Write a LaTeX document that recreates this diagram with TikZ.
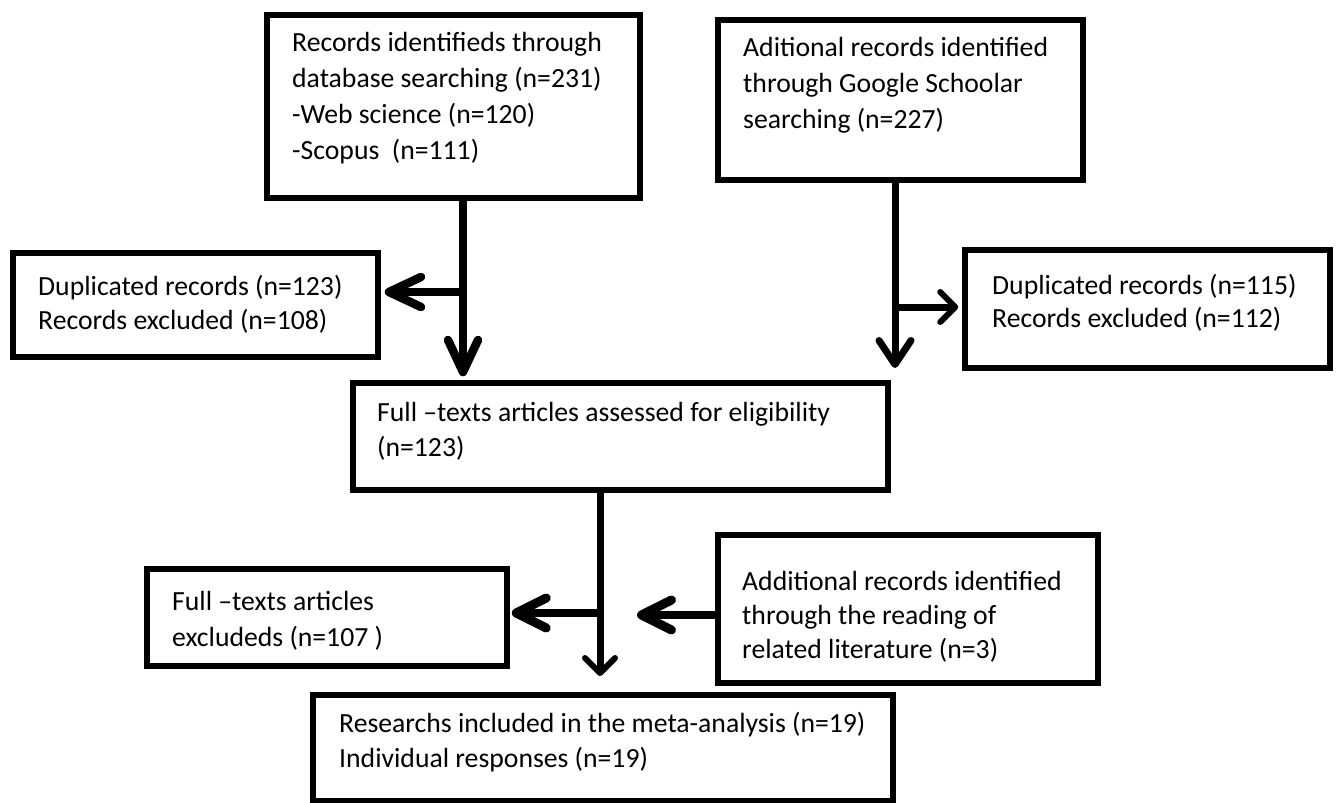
\documentclass[tikz,border=0pt]{standalone}
\usepackage{fontspec}
\setmainfont{Carlito}
\usetikzlibrary{arrows.meta}
\begin{document}
\begin{tikzpicture}[x=1pt,y=-1pt,
  box/.style={draw=black, line width=5.5pt, inner sep=0pt},
  txt/.style={anchor=north west, inner sep=0pt, align=left, font=\fontsize{27.7}{35}\selectfont},
  bigflow/.style={line width=8.5pt, -{Straight Barb[length=32pt,width=30pt,line width=8.5pt,round]}},
  medflow/.style={line width=7pt, -{Straight Barb[length=24pt,width=32pt,line width=7pt,round]}},
  smallflow/.style={line width=7pt, -{Straight Barb[length=15pt,width=30pt,line width=6pt,round]}},
  sideflow/.style={line width=8pt, -{Straight Barb[length=30pt,width=30pt,line width=9pt,round]}}]
\useasboundingbox (0,0) rectangle (1339,803);
\fill[white] (0,0) rectangle (1339,803);

% boxes
\node[box, minimum width=373pt, minimum height=183pt] (b1) at (453.5,106.5) {};
\node[box, minimum width=365pt, minimum height=160pt] (b2) at (900.5,100) {};
\node[box, minimum width=365pt, minimum height=104pt] (b3) at (195.5,305) {};
\node[box, minimum width=365pt, minimum height=118pt] (b4) at (1147.5,309) {};
\node[box, minimum width=535pt, minimum height=107pt] (b5) at (620.5,436.5) {};
\node[box, minimum width=360pt, minimum height=97pt] (b6) at (327,617.5) {};
\node[box, minimum width=380pt, minimum height=148pt] (b7) at (908,609) {};
\node[box, minimum width=580pt, minimum height=106pt] (b8) at (603,748) {};

% texts
\node[txt, font=\fontsize{27.7}{36}\selectfont] (t1) at (292,32) {Records identifieds through\\database searching (n=231)\\-Web science (n=120)\\-Scopus\ \ (n=111)};
\node[txt, font=\fontsize{27.7}{36}\selectfont] (t2) at (743,37) {Aditional records identified\\through Google Schoolar\\searching (n=227)};
\node[txt, font=\fontsize{27.7}{34}\selectfont] (t3) at (38,275) {Duplicated records (n=123)\\Records excluded (n=108)};
\node[txt, font=\fontsize{27.7}{33}\selectfont] (t4) at (992,274) {Duplicated records (n=115)\\Records excluded (n=112)};
\node[txt] (t5) at (377,402) {Full –texts articles assessed for eligibility\\(n=123)};
\node[txt, font=\fontsize{27.7}{36}\selectfont] (t6) at (172,591) {Full –texts articles\\excludeds (n=107 )};
\node[txt, font=\fontsize{27.7}{34}\selectfont] (t7) at (742,571) {Additional records identified\\through the reading of\\related literature (n=3)};
\node[txt] (t8) at (339,712) {Researchs included in the meta-analysis (n=19)\\Individual responses (n=19)};

% junctions
\coordinate (j1) at (463,292);
\coordinate (j2) at (895,307);
\coordinate (e2) at (895,368);
\coordinate (j3) at (600,613);
\coordinate (e3) at (600,676);
\coordinate (j4) at (637,615);

% connectors
\draw[bigflow, shorten >=4pt] (b1.south -| j1) -- (j1 |- b5.north);
\draw[bigflow, shorten >=4pt] (j1) -- (j1 -| b3.east);
\draw[medflow] (b2.south -| j2) -- (e2);
\draw[smallflow, shorten >=4pt] (j2) -- (j2 -| b4.west);
\draw[smallflow] (b5.south -| j3) -- (e3);
\draw[sideflow, shorten >=2pt] (j3) -- (j3 -| b6.east);
\draw[sideflow] (j4 -| b7.west) -- (j4);
\end{tikzpicture}
\end{document}
